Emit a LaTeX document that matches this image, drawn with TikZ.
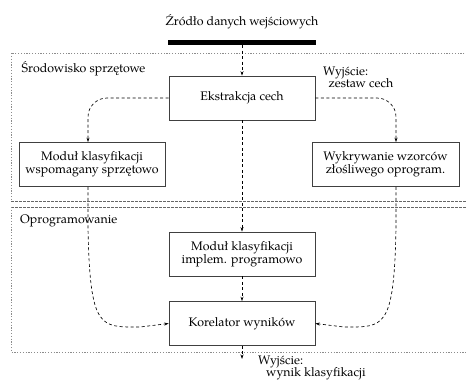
\documentclass[tikz,border=0pt]{standalone}
\usepackage{fontspec}
\setmainfont{texgyrepagella}[Extension=.otf,UprightFont=*-regular,BoldFont=*-bold,ItalicFont=*-italic,BoldItalicFont=*-bolditalic]
\usetikzlibrary{arrows.meta}
\begin{document}
\begin{tikzpicture}[x=1pt,y=-1pt,
  font=\fontsize{12.4}{13}\selectfont,
  box/.style={draw=black!75, line width=0.6pt, minimum width=146pt, minimum height=44pt, align=center, inner sep=2pt},
  flow/.style={dash pattern=on 3pt off 2.5pt, line width=0.65pt, -{Stealth[length=4.5pt,width=3pt]}},
  zone/.style={black!45, dash pattern=on 1.2pt off 1.6pt, line width=0.8pt},
  sep/.style={black!60, dash pattern=on 2.5pt off 1.5pt, line width=0.6pt},
  lbl/.style={anchor=base west, inner sep=0pt}]
\useasboundingbox (0,0) rectangle (466,386);
\begin{scope}
  \clip (0,0) rectangle (466,386);
  \draw[zone] (470,53) -- (11,53) -- (11,201);
  \draw[sep] (11,201) -- (470,201);
  \draw[sep] (11,207) -- (470,207);
  \draw[zone] (11,207) -- (11,352) -- (470,352);
\end{scope}
% nodes
\node[anchor=base, inner sep=0pt] (title) at (242,25) {Źródło danych wejściowych};
\node[fill=black, minimum width=148pt, minimum height=5pt, inner sep=0pt] (bar) at (242,42.5) {};
\node[box] (ext) at (242,98) {Ekstrakcja cech};
\node[box] (hw) at (92,164.5) {Moduł klasyfikacji\\wspomagany sprzętowo};
\node[box, minimum width=147pt] (mal) at (385.5,164.5) {Wykrywanie wzorców\\złośliwego oprogram.};
\node[box] (sw) at (242,254) {Moduł klasyfikacji\\implem. programowo};
\node[box] (cor) at (242,323.5) {Korelator wyników};
\coordinate (out) at (242,359);
\coordinate (lA) at (88,228);
\coordinate (lB) at (140,327);
\coordinate (rA) at (396,228);
\coordinate (rB) at (344,327);
% labels
\node[lbl] (hwlab) at (21.5,72.5) {Środowisko sprzętowe};
\node[lbl] (swlab) at (20,223) {Oprogramowanie};
\node[lbl] (o1a) at (323,75) {Wyjście:};
\node[lbl] (o1b) at (328.5,87) {zestaw cech};
\node[lbl] (o2a) at (258,364) {Wyjście:};
\node[lbl] (o2b) at (266,376.5) {wynik klasyfikacji};
% connectors
\draw[flow] (bar.south) -- (ext.north);
\draw[flow, rounded corners=19pt] (ext.west) -| ([xshift=-4pt]hw.north);
\draw[flow, rounded corners=19pt] (ext.east) -| ([xshift=10.5pt]mal.north);
\draw[flow] (ext.south) -- (sw.north);
\draw[flow] (sw.south) -- (cor.north);
\draw[flow] ([xshift=-4pt]hw.south) -- (lA) .. controls (90,330) and (100,327) .. (lB) -- (cor.west);
\draw[flow] ([xshift=10.5pt]mal.south) -- (rA) .. controls (394,330) and (384,327) .. (rB) -- (cor.east);
\draw[flow] (cor.south) -- (out);
\end{tikzpicture}
\end{document}
